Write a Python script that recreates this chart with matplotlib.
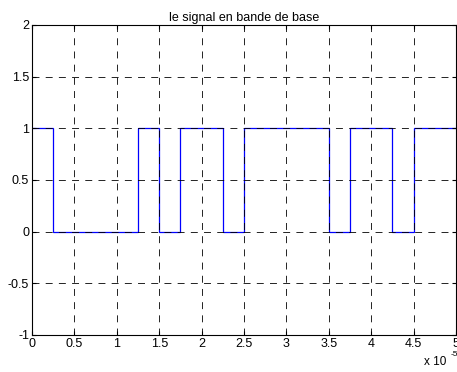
import numpy as np
import matplotlib.pyplot as plt

# bit sequence (bit duration 0.25e-5 s)
bits = [1, 0, 0, 0, 0, 1, 0, 1, 1, 0, 1, 1, 1, 1, 0, 1, 1, 0, 1, 1]
Tb = 0.25e-5
t_edges = np.arange(len(bits) + 1) * Tb
xticks = np.arange(0, 5.01, 0.5)
xtick_labels = ["0", "0.5", "1", "1.5", "2", "2.5", "3", "3.5", "4", "4.5", "5"]
yticks = [-1, -0.5, 0, 0.5, 1, 1.5, 2]
ytick_labels = ["-1", "-0.5", "0", "0.5", "1", "1.5", "2"]

plt.rcParams['font.family'] = ['Liberation Sans', 'DejaVu Sans']
plt.rcParams['lines.scale_dashes'] = False

fig = plt.figure(figsize=(4.57, 3.72), dpi=100)
ax = fig.add_axes([0.070, 0.0995, 0.928, 0.8335])

# stairs drawn in units of 1e-5 like matlab's scaled axis
ax.stairs(bits, t_edges / 1e-5, baseline=None, color="#0000ff", linewidth=0.9)

ax.set_xlim(0, 5)
ax.set_ylim(-1, 2)
ax.set_xticks(xticks)
ax.set_xticklabels(xtick_labels)
ax.set_yticks(yticks)
ax.set_yticklabels(ytick_labels)
ax.tick_params(direction="in", top=True, right=True, labelsize=9, length=3, pad=2)

ax.grid(True, color="black", linestyle=(0, (5, 4.5)), linewidth=0.6)
for s in ax.spines.values():
    s.set_linewidth(0.8)

ax.set_title("le signal en bande de base", fontsize=9, pad=3)
fig.text(0.928, 0.020, "x 10", fontsize=8.5)
fig.text(0.986, 0.042, "-5", fontsize=6)

plt.savefig("out.png", dpi=100)
